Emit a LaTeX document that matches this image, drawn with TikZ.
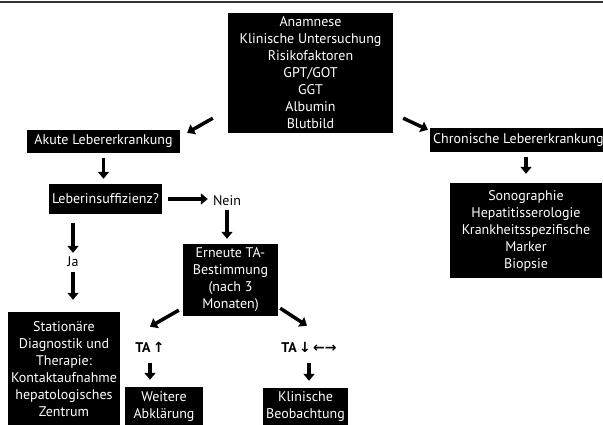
\documentclass[tikz,border=0pt]{standalone}
\usepackage{fontspec}
\setmainfont{PT Sans}
\newfontfamily\arrowfont{DejaVu Sans}
\usetikzlibrary{positioning, arrows.meta}

\tikzset{
  box/.style={fill=black, text=white, align=center, inner sep=0pt, font=\fontsize{14}{17}\selectfont},
  lbl/.style={align=center, inner sep=1pt, font=\fontsize{14}{17}\selectfont},
  arr/.style={line width=3.5pt, -{Triangle[length=7pt, width=11pt]}},
}

\begin{document}
\begin{tikzpicture}[x=1pt, y=-1pt]
  \useasboundingbox (0,0) rectangle (603,424);
  \clip (0,0) rectangle (603,424);
  \draw[line width=1.2pt, black!80] (0,2) -- (603,2);

  \node[box, minimum width=165, minimum height=120] (basis) at (310.5,73)
    {Anamnese\\Klinische Untersuchung\\Risikofaktoren\\GPT/GOT\\GGT\\Albumin\\Blutbild};
  \node[box, minimum width=153, minimum height=23] (akut) at (103.5,141.5) {Akute Lebererkrankung};
  \node[box, minimum height=24, inner xsep=3pt, anchor=west] (chron) at (430,140) {Chronische Lebererkrankung};
  \node[box, minimum width=113, minimum height=30] (insuff) at (105.5,199) {Leberinsuffizienz?};
  \node[lbl] (nein) at (227,201) {Nein};
  \node[lbl] (ja) at (73,262) {Ja};
  \node[box, minimum width=95, minimum height=72] (erneut) at (230.5,280)
    {Erneute TA-\\Bestimmung\\(nach 3\\Monaten)};
  \node[box, minimum width=112, minimum height=114] (stat) at (64,369)
    {Stationäre\\Diagnostik und\\Therapie:\\Kontaktaufnahme\\hepatologisches\\Zentrum};
  \node[box, minimum width=152, minimum height=95] (sono) at (526,230.5)
    {Sonographie\\Hepatitisserologie\\Krankheitsspezifische\\Marker\\Biopsie};
  \node[lbl] (taup) at (150,347) {\textbf{TA}\,{\arrowfont\bfseries ↑}};
  \node[lbl] (tadown) at (309,347) {\textbf{TA}\,{\arrowfont\bfseries ↓\,←→}};
  \node[box, minimum width=78, minimum height=39] (weiter) at (164,406.5) {Weitere\\Abklärung};
  \node[box, minimum width=85, minimum height=38] (klin) at (305.5,407) {Klinische\\Beobachtung};

  \draw[arr] ([shift={(-15,-15)}]basis.south west) -- ([shift={(7,3)}]akut.north east);
  \draw[arr] ([shift={(10,-15)}]basis.south east) -- ([shift={(-2,2)}]chron.north west);
  \draw[arr, shorten <=5pt, shorten >=5pt] (akut.south) -- (akut.south |- insuff.north);
  \draw[arr, shorten <=6pt, shorten >=4pt] (insuff.east) -- (insuff.east -| nein.west);
  \draw[arr, shorten <=3pt, shorten >=5pt] (nein.south) -- (nein.south |- erneut.north);
  \draw[arr, shorten <=9pt, shorten >=3pt] (insuff.south -| ja.north) -- (ja.north);
  \draw[arr, shorten <=4pt, shorten >=12pt] (ja.south) -- (ja.south |- stat.north);
  \draw[arr, shorten <=5pt, shorten >=9pt] (chron.south -| sono.north) -- (sono.north);
  \draw[arr] ([shift={(-4,-6)}]erneut.south west) -- ([shift={(0,-14)}]taup.north);
  \draw[arr] ([shift={(2,-8)}]erneut.south east) -- ([shift={(-2,-15)}]tadown.north);
  \draw[arr, shorten <=10pt, shorten >=7pt] (taup.south) -- (taup.south |- weiter.north);
  \draw[arr, shorten <=10pt, shorten >=7pt] (tadown.south) -- (tadown.south |- klin.north);
\end{tikzpicture}
\end{document}
